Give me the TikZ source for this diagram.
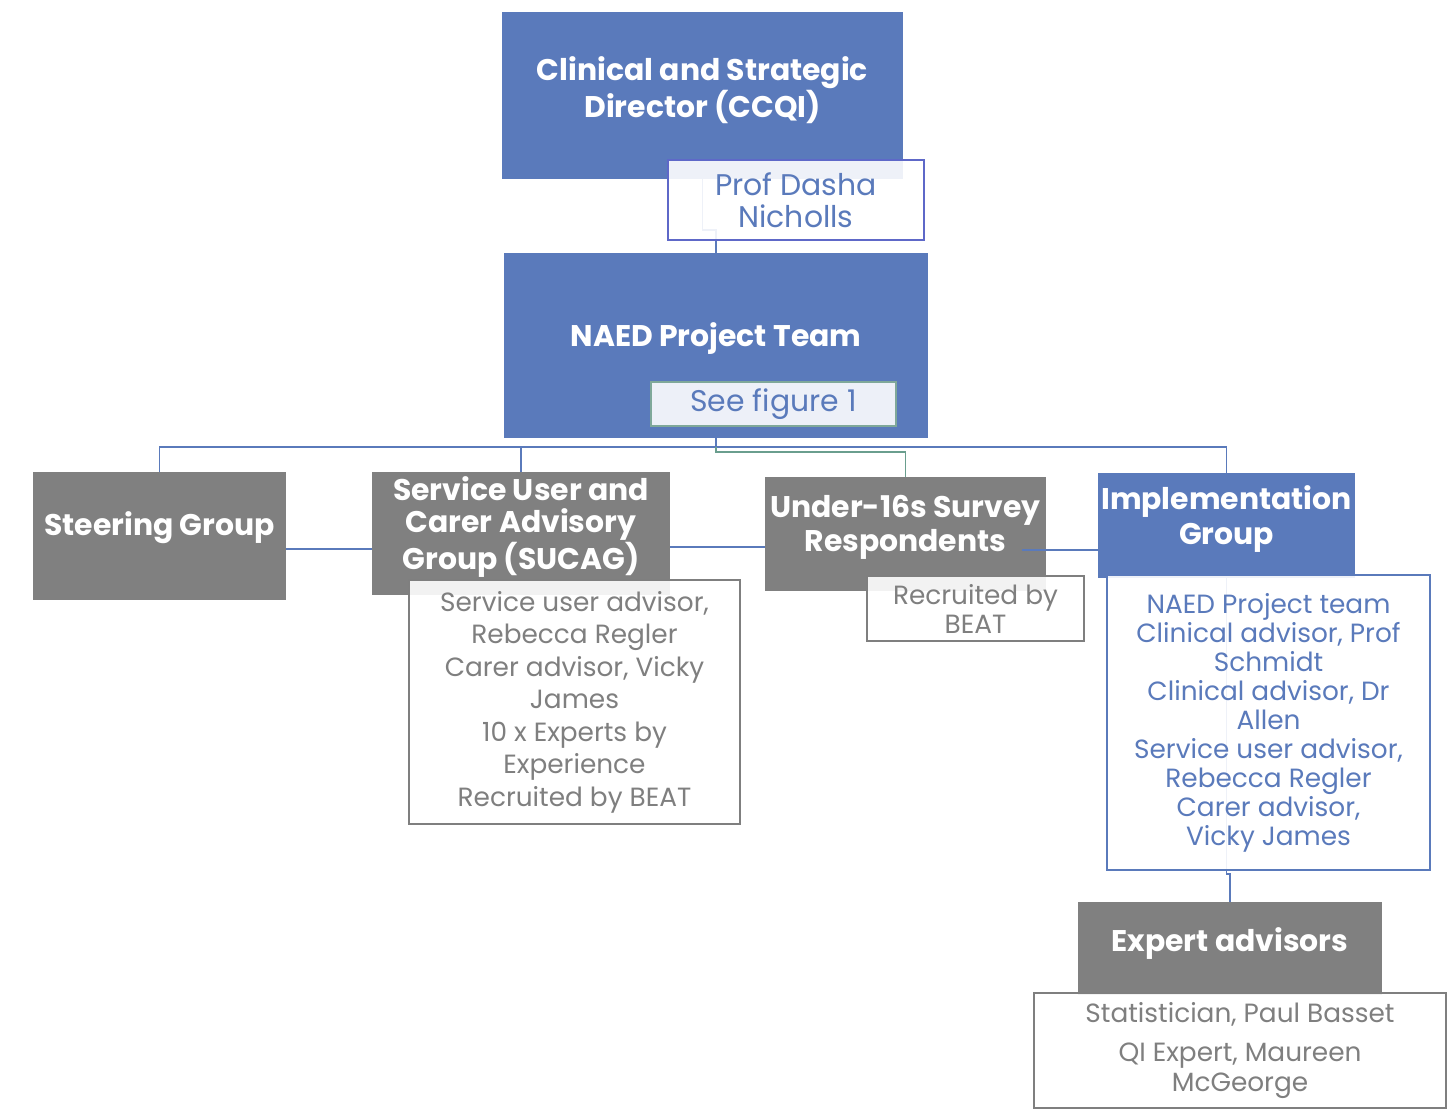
\documentclass[tikz,border=0pt]{standalone}
\usepackage{fontspec}
\setmainfont{Poppins}
\usetikzlibrary{calc,positioning}
\definecolor{naedblue}{HTML}{5A7ABB}
\definecolor{boxgray}{HTML}{808080}
\definecolor{textgray}{HTML}{7F7F7F}
\definecolor{profline}{HTML}{5E68C8}
\definecolor{figline}{HTML}{7FA89A}
\definecolor{figfill}{HTML}{EDF0F8}
\definecolor{tealline}{HTML}{6A9E8E}
\tikzset{
    box/.style = {fill=naedblue, text=white, align=center, inner sep=0pt,
        font=\bfseries\fontsize{17}{18.5}\selectfont},
    graybox/.style = {box, fill=boxgray},
    note/.style = {draw=textgray, line width=1.1pt, fill=white, fill opacity=0.9,
        text opacity=1, text=textgray, align=center, inner sep=0pt,
        font=\fontsize{15}{18.5}\selectfont},
    bluenote/.style = {note, draw=naedblue, text=naedblue},
    link/.style = {draw=naedblue, line width=1.1pt}
}
\begin{document}
\begin{tikzpicture}[x=0.02cm, y=-0.02cm]
    \useasboundingbox (0,0) rectangle (1453,1116);

    % Boxes
    \node[box, minimum width=8.02cm, minimum height=3.34cm] (ccqi) at (702.5,95.5) {};
    \node[box, font=\bfseries\fontsize{17}{20}\selectfont] (ccqitext) at (702.5,90)
        {Clinical and Strategic\\Director (CCQI)};
    \node[box, minimum width=8.48cm, minimum height=3.7cm] (naed) at (716,345.5) {};
    \node[box] (naedtext) at (716,339) {NAED Project Team};
    \node[graybox, minimum width=5.06cm, minimum height=2.56cm] (steer) at (159.5,536) {};
    \node[graybox] (steertext) at (159.5,528) {Steering Group};
    \node[graybox, minimum width=5.96cm, minimum height=2.46cm] (sucag) at (521,533.5) {};
    \node[graybox] (sucagtext) at (521,527) {Service User and\\Carer Advisory\\Group (SUCAG)};
    \node[graybox, minimum width=5.62cm, minimum height=2.28cm] (under) at (905.5,534) {};
    \node[graybox, font=\bfseries\fontsize{17}{19.5}\selectfont] (undertext) at (905.5,527)
        {Under-16s Survey\\Respondents};
    \node[box, minimum width=5.14cm, minimum height=2.1cm] (impl) at (1226.5,525.5) {};
    \node[box, font=\bfseries\fontsize{17}{19.5}\selectfont] (impltext) at (1226.5,519)
        {Implementation\\Group};
    \node[graybox, minimum width=6.08cm, minimum height=1.86cm] (expert) at (1230,948.5) {};
    \node[graybox] (experttext) at (1230,943) {Expert advisors};

    % Connectors
    \coordinate (ccqijog) at (702.5,230);
    \draw[link] (ccqi.south) -- (ccqijog) -| (naed.north);
    \coordinate (bus) at (716,447);
    \draw[link] (naed.south) -- (bus);
    \draw[link] (steer.north) |- (bus) -| (impl.north);
    \draw[link] (sucag.north) -- (sucag.north |- bus);
    \draw[draw=tealline, line width=1.1pt] (bus) -- ++(0,5) -| (under.north);
    \draw[link] (steer.east |- 0,549) -- (sucag.west |- 0,549);
    \draw[link] (sucag.east |- 0,547) -- (under.west |- 0,547);
    \draw[link] ([xshift=-0.48cm]under.east |- 0,550) -- (impl.west |- 0,550);
    \coordinate (impljog) at (1226.5,874);
    \draw[link] (impl.south) -- (impljog) -| (expert.north);

    % Notes
    \node[bluenote, draw=profline, minimum width=5.12cm, minimum height=1.6cm,
        font=\fontsize{17}{18.5}\selectfont] (prof) at (796,200) {Prof Dasha\\Nicholls};
    \node[note, draw=figline, fill=figfill, fill opacity=1, text=naedblue,
        minimum width=4.9cm, minimum height=0.88cm, font=\fontsize{17}{18.5}\selectfont]
        (fig) at (773.5,404) {See figure 1};
    \node[note, minimum width=6.62cm, minimum height=4.88cm] (sucagnote) at (574.5,702)
        {Service user advisor,\\Rebecca Regler\\Carer advisor, Vicky\\James\\10 x Experts by\\Experience\\Recruited by BEAT};
    \node[note, minimum width=4.34cm, minimum height=1.3cm, font=\fontsize{15}{16.5}\selectfont]
        (beat) at (975.5,608.5) {Recruited by\\BEAT};
    \node[bluenote, minimum width=6.46cm, minimum height=5.9cm,
        font=\fontsize{15}{16.5}\selectfont] (implnote) at (1268.5,722.5)
        {NAED Project team\\Clinical advisor, Prof\\Schmidt\\Clinical advisor, Dr\\Allen\\Service user advisor,\\Rebecca Regler\\Carer advisor,\\Vicky James};
    \node[note, minimum width=8.24cm, minimum height=2.3cm, font=\fontsize{15}{17}\selectfont]
        (expertnote) at (1240,1050.5)
        {Statistician, Paul Basset\\[5pt]QI Expert, Maureen\\McGeorge};
\end{tikzpicture}
\end{document}
